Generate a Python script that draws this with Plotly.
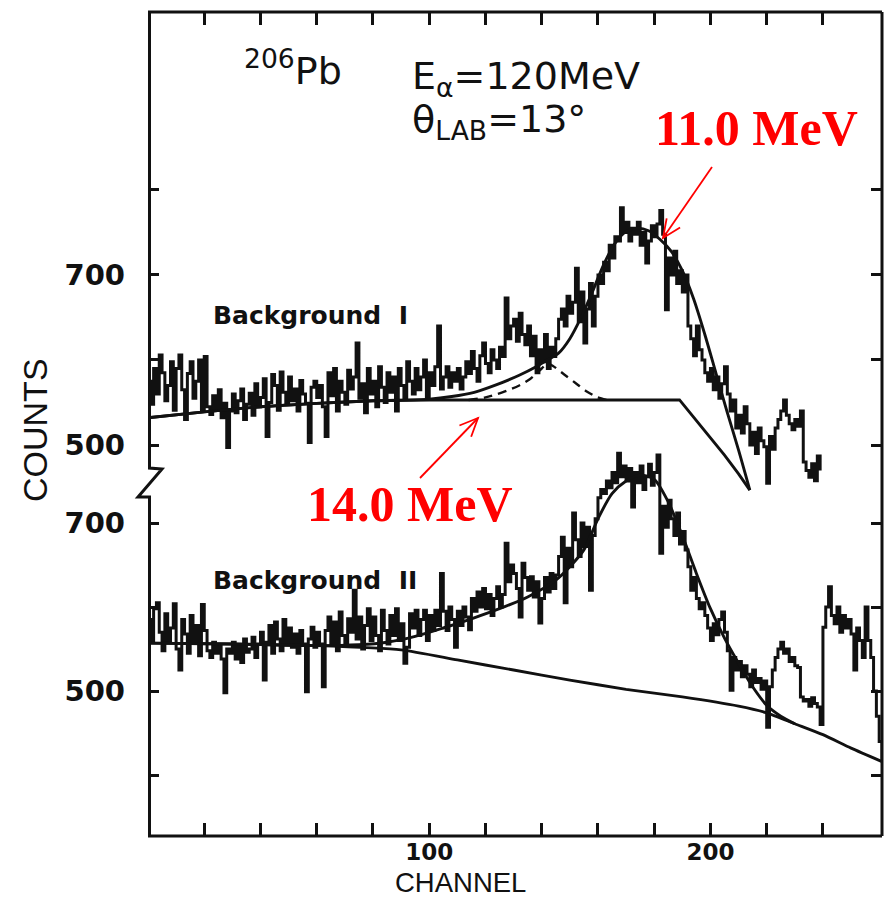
import math
import plotly.graph_objects as go

# ---------------------------------------------------------------------------
# Spectra: counts per channel for the two background treatments
# ---------------------------------------------------------------------------
counts_bg1 = [
    575, 548, 590, 560, 606, 585, 552, 570, 598, 541,
    590, 606, 565, 530, 584, 598, 555, 575, 600, 540,
    604, 545, 536, 558, 542, 565, 532, 549, 497, 540,
    560, 538, 552, 566, 530, 548, 561, 535, 572, 545,
    556, 578, 510, 550, 583, 570, 541, 586, 562, 548,
    580, 552, 566, 540, 576, 560, 549, 503, 568, 575,
    556, 570, 545, 510, 585, 558, 590, 540, 575, 562,
    548, 588, 566, 580, 620, 555, 572, 538, 590, 560,
    575, 545, 592, 568, 550, 585, 562, 580, 540, 590,
    570, 556, 598, 575, 560, 590, 565, 580, 600, 556,
    585, 570, 592, 640, 566, 580, 592, 568, 585, 575,
    590, 566, 580, 598, 584, 610, 590, 575, 605, 620,
    596, 585, 612, 600, 590, 615, 604, 673, 625, 640,
    648, 622, 655, 630, 618, 640, 605, 628, 585, 612,
    598, 630, 590, 615, 604, 625, 648, 660, 640, 675,
    655, 668, 708, 645, 680, 620, 660, 690, 640, 675,
    700, 690, 715, 705, 735, 720, 745, 740, 779, 750,
    762, 740, 755, 748, 762, 735, 750, 714, 740, 758,
    745, 760, 776, 748, 659, 720, 700, 728, 690, 705,
    680, 700, 640, 625, 605, 640, 612, 600, 585, 575,
    590, 565, 580, 555, 572, 592, 560, 540, 553, 520,
    535, 514, 545, 525, 500, 515, 490, 520, 505, 498,
    455, 510, 495, 520, 530, 540, 553, 535, 525, 518,
    530, 522, 540, 480, 470, 462, 478, 458, 487, 470,
]

counts_bg2 = [
    585, 560, 598, 605, 570, 548, 592, 560, 575, 604,
    550, 525, 585, 568, 545, 590, 558, 578, 542, 603,
    572, 548, 540, 558, 545, 553, 538, 498, 550, 545,
    558, 538, 555, 534, 562, 546, 550, 564, 540, 556,
    570, 513, 558, 578, 545, 582, 562, 548, 585, 556,
    575, 552, 568, 545, 572, 556, 499, 562, 576, 552,
    570, 556, 505, 572, 588, 556, 582, 548, 594, 566,
    556, 586, 570, 620, 562, 588, 550, 578, 598, 560,
    588, 566, 548, 596, 572, 556, 590, 566, 598, 560,
    580, 533, 552, 592, 575, 596, 566, 585, 596, 560,
    590, 572, 596, 578, 640, 595, 572, 600, 585, 552,
    595, 578, 600, 588, 573, 610, 595, 618, 600, 622,
    598, 615, 590, 610, 624, 600, 615, 676, 630, 650,
    640, 622, 588, 652, 635, 620, 636, 612, 630, 581,
    610, 635, 618, 640, 622, 638, 660, 683, 605, 670,
    648, 712, 680, 660, 700, 672, 695, 620, 685, 705,
    730, 740, 735, 750, 742, 760, 748, 783, 755, 768,
    750, 765, 719, 760, 748, 768, 740, 755, 770, 745,
    760, 781, 664, 720, 695, 727, 705, 685, 712, 675,
    690, 668, 648, 620, 635, 610, 598, 605, 590, 575,
    560, 580, 567, 585, 594, 570, 548, 501, 540, 525,
    535, 517, 530, 520, 505, 525, 510, 515, 502, 512,
    457, 505, 525, 540, 550, 558, 545, 550, 535, 540,
    530, 528, 493, 488, 490, 482, 492, 485, 481, 460,
    576, 600, 624, 590, 580, 600, 570, 590, 575, 585,
    568, 525, 575, 560, 540, 600, 560, 540, 500, 470,
    440, 418,
]

# Fitted curves (channel, counts)
bg1_ch = [0, 20, 40, 60, 80, 100, 189, 195, 200, 205, 210, 214]
bg1_val = [532, 539, 545, 549, 552, 553, 553, 529, 509, 488, 466, 447]

fit1_ch = [0, 20, 40, 60, 80, 100, 108, 116, 124, 132, 138, 142, 146, 150,
           154, 158, 162, 166, 170, 174, 178, 182, 186, 190, 194, 198, 202,
           206, 210, 214]
fit1_val = [532, 539, 545, 549, 552, 554, 557, 562, 571, 582, 592, 600, 608,
            625, 650, 680, 712, 737, 751, 755, 752, 742, 728, 705, 672, 630,
            584, 538, 494, 447]

peak1_ch = [114, 120, 126, 132, 136, 140, 142, 144, 148, 152, 156, 160, 163]
peak1_val = [553, 556, 562, 570, 578, 590, 596, 593, 583, 573, 563, 556, 553]

bg2_ch = [0, 30, 60, 90, 110, 130, 150, 170, 190, 210, 220, 230, 240, 250, 261]
bg2_val = [557, 556, 554, 549, 537, 525, 513, 502, 493, 482, 474, 461, 448,
           432, 416]

fit2_ch = [0, 30, 60, 75, 85, 95, 105, 115, 125, 135, 145, 150, 155, 160, 165,
           170, 175, 180, 185, 190, 195, 200, 205, 210, 215, 220, 225, 230]
fit2_val = [557, 556, 554, 555, 558, 565, 575, 586, 598, 612, 632, 648, 668,
            705, 735, 750, 757, 752, 725, 685, 640, 598, 563, 533, 505, 483,
            470, 461]

x_major = [100, 200]
x_minor = list(range(20, 260, 20))
y_lower_major = [500, 700]
y_lower_minor = [400, 600]
y_upper_major = [500, 700]
y_upper_minor = [600, 800]

# ---------------------------------------------------------------------------
W, H = 894, 898
L, R, T, B = 148, 12, 12, 62
PW, PH = W - L - R, H - T - B


def px(x):
    return (x - L) / PW


def py(y):
    return (H - B - y) / PH


INK = "#111111"
RED = "#ff0000"
DATA_W = 3.0
FIT_W = 2.9
fig = go.Figure()

# lower spectrum (Background II)
fig.add_trace(go.Scatter(x=list(range(len(counts_bg2))), y=counts_bg2,
                         mode="lines", line=dict(color=INK, width=DATA_W, shape="hv"),
                         yaxis="y"))
fig.add_trace(go.Scatter(x=bg2_ch, y=bg2_val, mode="lines",
                         line=dict(color=INK, width=FIT_W, shape="spline", smoothing=0.6),
                         yaxis="y"))
fig.add_trace(go.Scatter(x=fit2_ch, y=fit2_val, mode="lines",
                         line=dict(color=INK, width=FIT_W, shape="spline", smoothing=0.8),
                         yaxis="y"))

# upper spectrum (Background I)
fig.add_trace(go.Scatter(x=list(range(len(counts_bg1))), y=counts_bg1,
                         mode="lines", line=dict(color=INK, width=DATA_W, shape="hv"),
                         yaxis="y2"))
fig.add_trace(go.Scatter(x=bg1_ch, y=bg1_val, mode="lines",
                         line=dict(color=INK, width=FIT_W),
                         yaxis="y2"))
fig.add_trace(go.Scatter(x=fit1_ch, y=fit1_val, mode="lines",
                         line=dict(color=INK, width=FIT_W, shape="spline", smoothing=0.8),
                         yaxis="y2"))
fig.add_trace(go.Scatter(x=peak1_ch, y=peak1_val, mode="lines",
                         line=dict(color=INK, width=2.4, dash="9px,6px",
                                   shape="spline", smoothing=0.8),
                         yaxis="y2"))

tick_font = dict(family="DejaVu Sans", size=29, color=INK, weight="bold")


def y_axis(rng, major, minor, **extra):
    return dict(range=rng, tickmode="array", tickvals=major,
                ticks="inside", ticklen=11, tickwidth=2.5, tickcolor=INK,
                minor=dict(tickmode="array", tickvals=minor, ticks="inside",
                           ticklen=11, tickwidth=2.5, tickcolor=INK, showgrid=False),
                mirror="ticks", showline=False, showgrid=False, zeroline=False,
                tickfont=tick_font, ticklabelstandoff=22, **extra)


fig.update_layout(
    width=W, height=H,
    margin=dict(l=L, r=R, t=T, b=B),
    paper_bgcolor="white", plot_bgcolor="white",
    showlegend=False,
    xaxis=dict(range=[0, 261], tickmode="array", tickvals=x_major,
               ticks="inside", ticklen=13, tickwidth=2.5, tickcolor=INK,
               minor=dict(tickmode="array", tickvals=x_minor, ticks="inside",
                          ticklen=13, tickwidth=2.5, tickcolor=INK, showgrid=False),
               mirror="ticks", showline=False, showgrid=False, zeroline=False,
               tickfont=dict(family="DejaVu Sans", size=23, color=INK, weight="bold"),
               ticklabelstandoff=0),
    yaxis=y_axis([327.4, 1308.3], y_lower_major, y_lower_minor),
    yaxis2=y_axis([40.0, 1009.4], y_upper_major, y_upper_minor,
                  overlaying="y", side="left"),
)

# frame: top, bottom, right edges and the broken left edge
frame = dict(color=INK, width=3)
fig.add_shape(type="line", xref="paper", yref="paper", x0=0, x1=1, y0=1, y1=1, line=frame)
fig.add_shape(type="line", xref="paper", yref="paper", x0=0, x1=1, y0=0, y1=0, line=frame)
fig.add_shape(type="line", xref="paper", yref="paper", x0=1, x1=1, y0=0, y1=1, line=frame)
lx = 149.5
brk = [(lx, 12), (lx, 468), (162, 469), (138, 497), (lx, 497), (lx, 836)]
path = "M " + " L ".join(f"{px(a):.5f},{py(b):.5f}" for a, b in brk)
fig.add_shape(type="path", xref="paper", yref="paper", path=path, line=frame)


def red_arrow(tail, head, head_len=20, spread=24):
    """Thin red arrow with an open V head, positions in page pixels."""
    (x0, y0), (x1, y1) = tail, head
    fig.add_shape(type="line", xref="paper", yref="paper",
                  x0=px(x0), y0=py(y0), x1=px(x1), y1=py(y1),
                  line=dict(color=RED, width=1.8))
    ang = math.atan2(y0 - y1, x0 - x1)
    pts = []
    for s in (-1, 1):
        a = ang + s * math.radians(spread)
        pts.append((x1 + head_len * math.cos(a), y1 + head_len * math.sin(a)))
    v = f"M {px(pts[0][0]):.5f},{py(pts[0][1]):.5f} L {px(x1):.5f},{py(y1):.5f} " \
        f"L {px(pts[1][0]):.5f},{py(pts[1][1]):.5f}"
    fig.add_shape(type="path", xref="paper", yref="paper", path=v,
                  line=dict(color=RED, width=1.8))


red_arrow((712, 167), (663, 238))
red_arrow((420, 478), (478, 418))

lab_font = dict(family="DejaVu Sans", color=INK)
ann = []
ann.append(dict(x=px(242), y=py(68), text="<sup>206</sup>Pb", xanchor="left",
                yanchor="middle", font=dict(size=38, **lab_font)))
ann.append(dict(x=px(410), y=py(52), text="E<sub>α</sub>=120MeV", xanchor="left",
                yanchor="top", font=dict(size=38, **lab_font)))
ann.append(dict(x=px(410), y=py(95), text="θ<sub>LAB</sub>=13°", xanchor="left",
                yanchor="top", font=dict(size=38, **lab_font)))
ann.append(dict(x=px(211), y=py(315), text="Background\u00a0\u00a0I", xanchor="left",
                yanchor="middle", font=dict(size=25, weight="bold", **lab_font)))
ann.append(dict(x=px(211), y=py(580), text="Background\u00a0\u00a0II", xanchor="left",
                yanchor="middle", font=dict(size=25, weight="bold", **lab_font)))
ann.append(dict(x=px(35), y=py(430), text="COUNTS", textangle=-90,
                xanchor="center", yanchor="middle",
                font=dict(size=34, family="Liberation Sans", color=INK)))
ann.append(dict(x=px(460), y=py(882.2), text="CHANNEL", xanchor="center",
                yanchor="middle", borderpad=0,
                font=dict(size=27.5, family="Liberation Sans", color=INK)))

red_font = dict(family="Liberation Serif", size=50, color=RED, weight="bold")
ann.append(dict(x=px(756), y=py(128), text="11.0 MeV", xanchor="center",
                yanchor="middle", font=red_font))
ann.append(dict(x=px(410), y=py(504), text="14.0 MeV", xanchor="center",
                yanchor="middle", font=red_font))

for a in ann:
    a.setdefault("xref", "paper")
    a.setdefault("yref", "paper")
    a.setdefault("showarrow", False)
fig.update_layout(annotations=ann)

fig.write_html("out.html")
